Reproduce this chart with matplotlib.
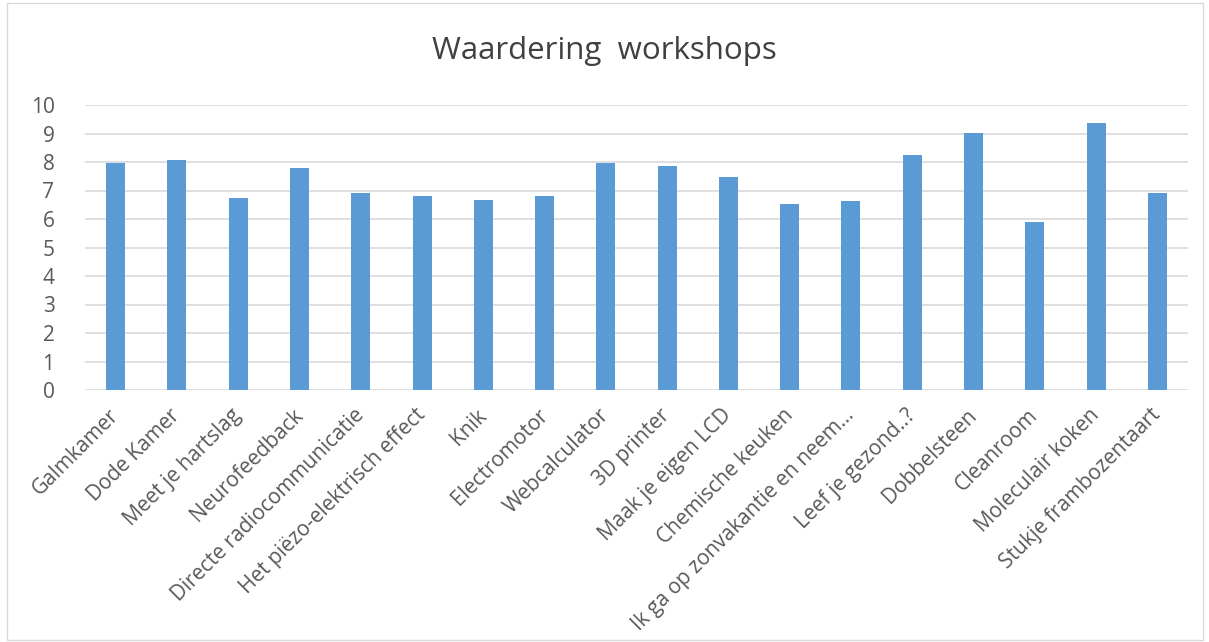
import numpy as np
from matplotlib import pyplot as plt
from matplotlib.patches import Rectangle

workshops = ["Galmkamer", "Dode Kamer", "Meet je hartslag", "Neurofeedback",
             "Directe radiocommunicatie", "Het piëzo-elektrisch effect", "Knik",
             "Electromotor", "Webcalculator", "3D printer", "Maak je eigen LCD",
             "Chemische keuken", "Ik ga op zonvakantie en neem…", "Leef je gezond..?",
             "Dobbelsteen", "Cleanroom", "Moleculair koken", "Stukje frambozentaart"]
scores = [7.98, 8.08, 6.73, 7.80, 6.91, 6.79, 6.67, 6.79, 7.98, 7.85,
          7.46, 6.51, 6.63, 8.24, 9.01, 5.91, 9.36, 6.91]
y_ticks = list(range(0, 11))

plt.rcParams['font.family'] = ['Open Sans', 'DejaVu Sans']

fig = plt.figure(figsize=(12.09, 6.42), dpi=100)
ax = fig.add_axes([85 / 1209, 1 - 390 / 642, (1188 - 85) / 1209, (390 - 105) / 642])

x = np.arange(len(workshops))
ax.bar(x, scores, width=0.31, color="#5B9BD5", zorder=3)

ax.set_ylim(0, 10)
ax.set_xlim(-0.5, len(workshops) - 0.5)
ax.set_yticks(y_ticks)
ax.grid(axis="y", color="#D9D9D9", linewidth=1.2, zorder=0)
for s in ax.spines.values():
    s.set_visible(False)
ax.tick_params(length=0, colors="#595959", labelsize=15)
ax.tick_params(axis="y", pad=22)
ax.set_xticks(x)
ax.set_xticklabels(workshops, rotation=45, ha="right", va="center",
                   rotation_mode="anchor", fontsize=15)
ax.tick_params(axis="x", pad=16)

fig.text(0.5, 1 - 51 / 642, "Waardering  workshops", ha="center", va="center",
         fontsize=22.5, color="#404040")

fig.patches.append(Rectangle((7 / 1209, 2 / 642), 1196 / 1209, 637 / 642,
                             transform=fig.transFigure, fill=False,
                             edgecolor="#D9D9D9", linewidth=1))

fig.savefig("out.png", dpi=100)
